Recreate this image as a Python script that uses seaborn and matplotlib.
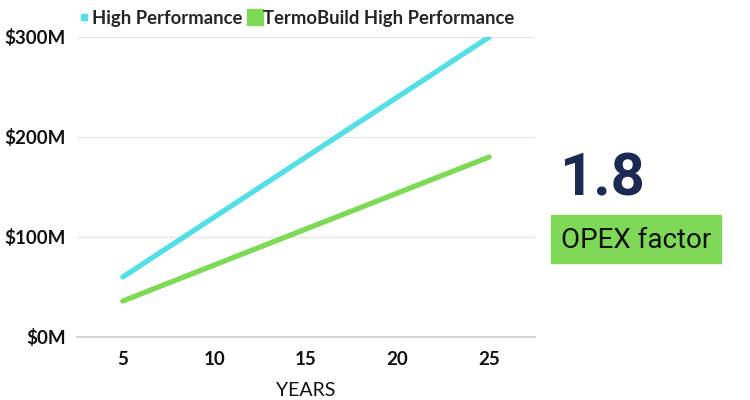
import matplotlib
matplotlib.use("Agg")
import matplotlib.pyplot as plt
from matplotlib.lines import Line2D
from matplotlib.patches import Rectangle
import pandas as pd
import seaborn as sb

# data
years = [5, 10, 15, 20, 25]
highPerf = [60, 120, 180, 240, 300]
termoBuild = [36, 72, 108, 144, 180]
yTicks = [0, 100, 200, 300]
seriesNames = ['High Performance', 'TermoBuild High Performance']
factorValue = '1.8'
factorLabel = 'OPEX factor'

cyan = '#55DEE5'
green = '#7ED957'
navy = '#1B2A52'

sb.set_theme(style='white')
plt.rcParams['font.family'] = ['Lato', 'DejaVu Sans']

df = pd.DataFrame({'year': years * 2,
                   'value': highPerf + termoBuild,
                   'series': [seriesNames[0]] * len(years) + [seriesNames[1]] * len(years)})

fig = plt.figure(figsize=(7.5, 4), dpi=100)
ax = fig.add_axes([0.1027, 0.1575, 0.6106, 0.75])

sb.lineplot(data=df, x='year', y='value', hue='series',
            palette=[cyan, green], linewidth=3.8, legend=False, ax=ax,
            solid_capstyle='round')

ax.set_xlim(2.5, 27.5)
ax.set_ylim(0, 300)
ax.set_xticks(years)
ax.set_yticks(yTicks)
ax.set_yticklabels([f'${v}M' for v in yTicks])
ax.grid(axis='y', color='#E6E6E6', linewidth=1)
ax.set_axisbelow(True)
for s in ['top', 'right', 'left']:
    ax.spines[s].set_visible(False)
ax.spines['bottom'].set_color('#D3D3D3')
ax.spines['bottom'].set_linewidth(1.5)
ax.tick_params(axis='y', length=0, labelsize=13.5, pad=8)
ax.tick_params(axis='x', length=0, labelsize=13.5, pad=10)
for lab in ax.get_xticklabels() + ax.get_yticklabels():
    lab.set_fontweight('bold')
    lab.set_color('#111111')
ax.set_xlabel('YEARS', fontsize=14, labelpad=10, color='#111111')
ax.set_ylabel('')

handles = [Line2D([], [], marker='s', linestyle='none', color=cyan, markersize=4),
           Line2D([], [], marker='s', linestyle='none', color=green, markersize=12)]
leg = ax.legend(handles, seriesNames, loc='lower left', bbox_to_anchor=(-0.017, 1.0),
                ncol=2, frameon=False, handletextpad=0.2, columnspacing=0.4,
                handlelength=0.5, borderaxespad=0.15,
                prop={'family': 'Lato', 'weight': 'bold', 'size': 13.3})

# side annotation
fig.text(0.745, 0.512, factorValue, fontsize=43, fontweight='bold', color=navy,
         family='Roboto', ha='left', va='baseline')
fig.patches.append(Rectangle((551 / 750, 1 - 263 / 400), 170 / 750, 48 / 400,
                             transform=fig.transFigure, color=green, zorder=0))
fig.text(636 / 750, 1 - 240 / 400, factorLabel, fontsize=20, color='#111111',
         family='Roboto', ha='center', va='center')

fig.savefig('out.png', dpi=100)
